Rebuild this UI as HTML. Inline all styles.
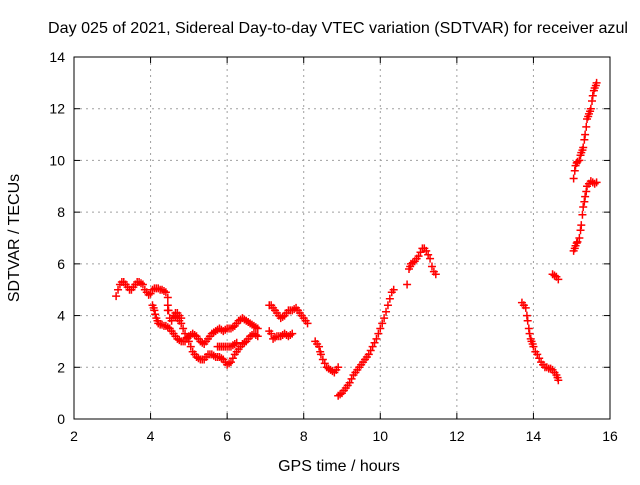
<!DOCTYPE html>
<html><head><meta charset="utf-8"><style>
body{margin:0;background:#fff;}
svg text{font-family:"Liberation Sans",sans-serif;font-size:14px;fill:#000;}
svg text.big{font-size:16px;}
</style></head><body>
<svg id="chart" width="640" height="480" xmlns="http://www.w3.org/2000/svg">
<rect width="640" height="480" fill="#fff"/>
<text class="big" x="338" y="33" text-anchor="middle" textLength="580" lengthAdjust="spacingAndGlyphs">Day 025 of 2021, Sidereal Day-to-day VTEC variation (SDTVAR) for receiver azul</text>
<g id="grid"></g>
<g id="ticks"></g>
<g id="marks"></g>
<rect x="74" y="57" width="536" height="362" fill="none" stroke="#000" stroke-width="1"/>
<text class="big" x="339" y="471" text-anchor="middle">GPS time / hours</text>
<text class="big" transform="translate(19,238) rotate(-90)" text-anchor="middle">SDTVAR / TECUs</text>
</svg>
<script>
const xTicks=[2,4,6,8,10,12,14,16];
const yTicks=[0,2,4,6,8,10,12,14];
const seriesTimes=[
3.10,3.15,3.20,3.25,3.30,3.35,3.40,3.45,3.50,3.55,3.60,3.65,3.70,3.75,3.80,3.85,3.90,3.95,4.00,4.05,4.10,4.15,4.20,4.25,4.30,4.35,4.40,4.45,4.45,4.47,
4.05,4.08,4.10,4.12,4.15,4.18,4.20,4.25,4.30,4.35,4.40,4.45,4.50,4.55,4.60,4.65,4.70,4.75,4.80,4.85,4.90,4.95,5.00,5.05,5.10,5.15,5.20,5.25,5.30,5.35,5.40,5.45,5.50,5.55,5.60,5.65,5.70,5.75,5.80,5.85,5.90,5.95,6.00,6.05,6.10,6.15,6.20,6.25,6.30,6.35,6.40,6.45,6.50,6.55,6.60,6.65,6.70,6.75,6.80,
4.60,4.65,4.70,4.75,4.80,4.85,4.90,4.95,5.00,5.05,5.10,5.15,5.20,5.25,5.30,5.35,5.40,5.45,5.50,5.55,5.60,5.65,5.70,5.75,5.80,5.85,5.90,5.95,6.00,6.05,6.10,6.15,6.20,6.25,6.30,6.35,6.40,6.45,6.50,6.55,6.60,6.65,6.70,6.75,6.80,
5.75,5.80,5.85,5.90,5.95,6.00,6.05,6.10,6.15,6.20,6.25,
4.45,4.50,4.55,4.60,4.65,4.70,4.75,4.80,
7.10,7.15,7.20,7.25,7.30,7.35,7.40,7.45,7.50,7.55,7.60,7.65,7.70,7.75,7.80,7.85,7.90,7.95,8.00,8.05,8.10,
7.10,7.15,7.20,7.25,7.30,7.35,7.40,7.45,7.50,7.55,7.60,7.65,7.70,
8.30,8.35,8.40,8.43,8.45,8.50,8.55,8.60,8.65,8.70,8.75,8.80,8.85,8.90,
8.90,8.95,9.00,9.05,9.10,9.15,9.20,9.25,9.30,9.35,9.40,9.45,9.50,9.55,9.60,9.65,9.70,9.75,9.80,9.85,9.90,9.95,10.00,10.05,10.10,10.15,10.20,10.25,10.30,10.35,
10.70,10.75,10.78,10.80,10.85,10.90,10.95,11.00,11.05,11.10,11.15,11.20,11.25,11.30,11.35,11.40,11.45,
13.70,13.75,13.80,13.83,13.85,13.88,13.90,13.93,13.95,13.98,14.00,14.05,14.10,14.15,14.20,14.25,14.30,14.35,14.40,14.45,14.50,14.55,14.60,14.63,14.65,
14.50,14.55,14.60,14.65,
15.05,15.08,15.10,15.13,15.15,15.20,15.23,15.25,15.28,15.30,15.33,15.35,15.38,15.40,15.43,15.45,15.48,15.50,15.53,15.55,15.58,15.60,15.63,15.65,
15.05,15.08,15.10,15.13,15.15,15.20,15.23,15.25,15.28,15.30,15.33,15.35,15.38,15.40,15.45,15.50,15.55,15.60,15.65];
const seriesValues=[
4.75,5.0,5.2,5.3,5.3,5.2,5.1,5.0,5.0,5.1,5.2,5.3,5.3,5.25,5.2,5.0,4.9,4.8,4.85,5.0,5.05,5.05,5.05,5.0,5.0,4.95,4.9,4.7,4.4,4.2,
4.4,4.3,4.2,4.05,3.9,3.8,3.7,3.65,3.65,3.6,3.6,3.55,3.5,3.4,3.3,3.2,3.1,3.05,3.0,3.0,3.0,3.1,3.2,3.25,3.3,3.25,3.2,3.1,3.0,2.95,2.9,3.0,3.1,3.2,3.3,3.35,3.4,3.45,3.5,3.45,3.4,3.45,3.5,3.5,3.5,3.55,3.6,3.7,3.8,3.85,3.9,3.85,3.8,3.75,3.7,3.65,3.6,3.55,3.5,
4.0,3.95,3.9,3.8,3.7,3.5,3.3,3.15,3.0,2.8,2.6,2.5,2.4,2.35,2.3,2.3,2.3,2.4,2.5,2.5,2.5,2.45,2.4,2.4,2.4,2.35,2.3,2.2,2.1,2.15,2.2,2.35,2.5,2.6,2.7,2.8,2.9,2.95,3.0,3.1,3.2,3.25,3.3,3.25,3.2,
2.8,2.8,2.8,2.8,2.8,2.8,2.8,2.8,2.85,2.9,2.95,
4.2,3.9,3.8,4.0,4.1,4.1,4.0,3.9,
4.4,4.4,4.3,4.2,4.1,4.0,3.9,3.95,4.0,4.1,4.2,4.2,4.2,4.25,4.3,4.2,4.1,4.0,3.9,3.8,3.7,
3.4,3.3,3.1,3.15,3.2,3.2,3.2,3.25,3.3,3.25,3.2,3.25,3.3,
3.0,2.9,2.8,2.6,2.5,2.3,2.15,2.0,1.95,1.9,1.85,1.8,1.9,2.0,
0.9,0.95,1.0,1.1,1.2,1.3,1.4,1.55,1.7,1.8,1.9,2.0,2.1,2.2,2.3,2.4,2.5,2.65,2.8,2.95,3.1,3.3,3.5,3.7,3.9,4.15,4.4,4.65,4.9,5.0,
5.2,5.8,5.9,6.0,6.05,6.1,6.2,6.3,6.45,6.6,6.6,6.5,6.35,6.2,5.9,5.7,5.6,
4.5,4.4,4.3,4.0,3.8,3.5,3.3,3.1,3.0,2.9,2.8,2.6,2.5,2.35,2.2,2.1,2.0,2.0,1.95,1.95,1.9,1.8,1.7,1.6,1.5,
5.6,5.55,5.5,5.4,
9.3,9.6,9.8,9.9,9.95,10.0,10.2,10.3,10.4,10.5,10.8,11.0,11.3,11.6,11.7,11.8,11.9,12.0,12.3,12.5,12.7,12.8,12.9,13.0,
6.5,6.6,6.7,6.8,6.85,7.0,7.3,7.5,7.9,8.2,8.4,8.6,8.8,9.0,9.1,9.2,9.15,9.1,9.15];
const X0=74,X1=610,Y0=419,Y1=57;
function xs(v){return X0+(v-2)/(16-2)*(X1-X0);}
function ys(v){return Y0-(v-0)/(14-0)*(Y0-Y1);}
const NS="http://www.w3.org/2000/svg";
const grid=document.getElementById('grid'),ticks=document.getElementById('ticks'),marks=document.getElementById('marks');
function mk(tag,attrs,parent){const e=document.createElementNS(NS,tag);for(const k in attrs)e.setAttribute(k,attrs[k]);parent.appendChild(e);return e;}
xTicks.forEach(t=>{const x=xs(t);
 if(t>2&&t<16){const g=mk('line',{x1:x,x2:x,y1:Y0,y2:Y1,stroke:'#a0a0a0','stroke-dasharray':'2,4'},grid);
 
 }
 mk('line',{x1:x,x2:x,y1:Y0,y2:Y0-6,stroke:'#000'},ticks);
 mk('line',{x1:x,x2:x,y1:Y1,y2:Y1+6,stroke:'#000'},ticks);
 const l=mk('text',{x:x,y:Y0+22,'text-anchor':'middle'},ticks);l.textContent=t;
 
 
});
yTicks.forEach(t=>{const y=ys(t);
 if(t>0&&t<14){const g=mk('line',{x1:X0,x2:X1,y1:y,y2:y,stroke:'#a0a0a0','stroke-dasharray':'2,4'},grid);
 
 }
 mk('line',{x1:X0,x2:X0+6,y1:y,y2:y,stroke:'#000'},ticks);
 mk('line',{x1:X1,x2:X1-6,y1:y,y2:y,stroke:'#000'},ticks);
 const l=mk('text',{x:X0-9,y:y+5,'text-anchor':'end'},ticks);l.textContent=t;
 
 
});
seriesTimes.forEach((t,i)=>{const x=xs(t),y=ys(seriesValues[i]);
 const p=mk('path',{d:`M${x-4},${y}H${x+4}M${x},${y-4}V${y+4}`,stroke:'#ff0000','stroke-width':1.5,fill:'none'},marks);
 
 
});
</script>
</body></html>
